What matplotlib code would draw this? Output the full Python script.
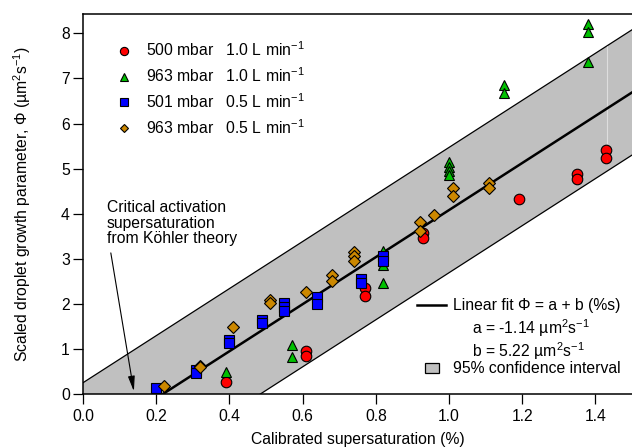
import numpy as np
import matplotlib
matplotlib.use('Agg')
import matplotlib.pyplot as plt
from matplotlib.lines import Line2D
from matplotlib.patches import Rectangle

plt.rcParams['font.family'] = ['Liberation Sans', 'DejaVu Sans']
plt.rcParams['mathtext.fontset'] = 'custom'
plt.rcParams['mathtext.rm'] = 'Liberation Sans'
plt.rcParams['mathtext.it'] = 'Liberation Sans:italic'
plt.rcParams['mathtext.bf'] = 'Liberation Sans:bold'
plt.rcParams['font.size'] = 11.3

# fit parameters and half width of the 95% band
fit_a = -1.14
fit_b = 5.22
band_half = 1.39

# 500 mbar, 1.0 L/min
s_500_10 = [0.39, 0.61, 0.61, 0.77, 0.77, 0.93, 0.93, 1.19, 1.35, 1.35, 1.43, 1.43]
phi_500_10 = [0.27, 0.95, 0.85, 2.36, 2.18, 3.58, 3.46, 4.32, 4.88, 4.76, 5.42, 5.23]

# 963 mbar, 1.0 L/min
s_963_10 = [0.39, 0.57, 0.57, 0.82, 0.82, 0.82, 0.82, 1.0, 1.0, 1.0, 1.0,
            1.15, 1.15, 1.38, 1.38, 1.38]
phi_963_10 = [0.48, 1.08, 0.82, 3.17, 3.0, 2.87, 2.47, 5.14, 5.03, 4.94, 4.85,
              6.86, 6.68, 8.21, 8.02, 7.37]

# 501 mbar, 0.5 L/min
s_501_05 = [0.2, 0.31, 0.31, 0.4, 0.4, 0.49, 0.49, 0.55, 0.55, 0.55, 0.64, 0.64,
            0.76, 0.76, 0.82, 0.82]
phi_501_05 = [0.13, 0.53, 0.46, 1.2, 1.14, 1.65, 1.57, 2.01, 1.92, 1.84, 2.16, 2.0,
              2.55, 2.47, 3.06, 2.96]

# 963 mbar, 0.5 L/min
s_963_05 = [0.22, 0.32, 0.32, 0.41, 0.51, 0.51, 0.61, 0.68, 0.68, 0.74, 0.74, 0.74,
            0.92, 0.92, 0.96, 1.01, 1.01, 1.11, 1.11]
phi_963_05 = [0.18, 0.63, 0.59, 1.48, 2.09, 2.01, 2.26, 2.65, 2.5, 3.14, 3.06, 2.96,
              3.82, 3.61, 3.98, 4.57, 4.4, 4.68, 4.56]

# faint error bar on the last 500 mbar point
err_s = 1.433
err_lo, err_hi = 5.55, 7.73

# critical activation supersaturation
s_crit = 0.139

xticks = [0.0, 0.2, 0.4, 0.6, 0.8, 1.0, 1.2, 1.4]
yticks = [0, 1, 2, 3, 4, 5, 6, 7, 8]

fig = plt.figure(figsize=(6.32, 4.47), dpi=100)
ax = fig.add_axes([83 / 632, 53 / 447, 549 / 632, 380 / 447])

s_line = np.linspace(0, 1.5, 200)
fit = fit_a + fit_b * s_line
ax.fill_between(s_line, fit - band_half, fit + band_half, facecolor='#c0c0c0',
                edgecolor='none', zorder=1)
ax.plot(s_line, fit + band_half, color='black', lw=0.9, zorder=2)
ax.plot(s_line, fit - band_half, color='black', lw=0.9, zorder=2)
ax.plot(s_line, fit, color='black', lw=1.8, zorder=3)
ax.vlines(err_s, err_lo, err_hi, color='#dedede', lw=0.8, zorder=2)

ms = 7.6
mew = 0.8
h1, = ax.plot(s_500_10, phi_500_10, 'o', ms=ms, mfc='#ff0000', mec='black', mew=mew,
              zorder=5, label='500 mbar   1.0 L min$^{-1}$')
h2, = ax.plot(s_963_10, phi_963_10, '^', ms=ms, mfc='#00c000', mec='black', mew=mew,
              zorder=5, label='963 mbar   1.0 L min$^{-1}$')
h3, = ax.plot(s_501_05, phi_501_05, 's', ms=ms - 0.4, mfc='#0000ff', mec='black', mew=mew,
              zorder=5, label='501 mbar   0.5 L min$^{-1}$')
h4, = ax.plot(s_963_05, phi_963_05, 'D', ms=ms - 1.9, mfc='#cc8800', mec='black', mew=mew,
              zorder=5, label='963 mbar   0.5 L min$^{-1}$')

ax.legend(handles=[h1, h2, h3, h4], loc='upper left', bbox_to_anchor=(0.060, 0.93),
          frameon=False, borderpad=0, borderaxespad=0, handlelength=1.0,
          handletextpad=0.9, labelspacing=0.45, markerscale=0.78)

# fit legend
tr = ax.transAxes
ax.add_line(Line2D([0.608, 0.661], [0.234, 0.234], color='black', lw=1.8, transform=tr))
ax.text(0.674, 0.234, 'Linear fit Φ = a + b (%s)', transform=tr, va='center', ha='left')
ax.text(0.709, 0.174, 'a = %.2f µm$^2$s$^{-1}$' % fit_a, transform=tr, va='center', ha='left')
ax.text(0.709, 0.113, 'b = %.2f µm$^2$s$^{-1}$' % fit_b, transform=tr, va='center', ha='left')
ax.add_patch(Rectangle((0.623, 0.055), 0.025, 0.026, facecolor='#c0c0c0',
                       edgecolor='black', lw=0.9, transform=tr))
ax.text(0.674, 0.068, '95% confidence interval', transform=tr, va='center', ha='left')

ax.text(0.065, 4.3, 'Critical activation\nsupersaturation\nfrom Köhler theory',
        ha='left', va='top', linespacing=1.05)
ax.annotate('', xy=(s_crit, 0.06), xytext=(0.076, 3.13),
            arrowprops=dict(arrowstyle='-|>,head_length=0.8,head_width=0.18',
                            color='black', lw=0.8, shrinkA=0, shrinkB=0))

ax.set_xlim(0, 1.5)
ax.set_ylim(0, 8.43)
ax.set_xticks(xticks)
ax.set_xticklabels(['%.1f' % t for t in xticks])
ax.set_yticks(yticks)
ax.tick_params(direction='out', length=7, width=0.9, color='black')
ax.tick_params(axis='x', pad=4)
ax.tick_params(axis='y', pad=2.5)
for side in ['left', 'bottom', 'top']:
    ax.spines[side].set_linewidth(1.1)
ax.spines['right'].set_visible(False)

ax.set_xlabel('Calibrated supersaturation (%)', va='center')
ax.xaxis.set_label_coords(0.5, -0.121)
ax.set_ylabel('Scaled droplet growth parameter, Φ (µm$^2$s$^{-1}$)', va='center')
ax.yaxis.set_label_coords(-0.111, 0.5)

fig.savefig('out.png', dpi=100)
